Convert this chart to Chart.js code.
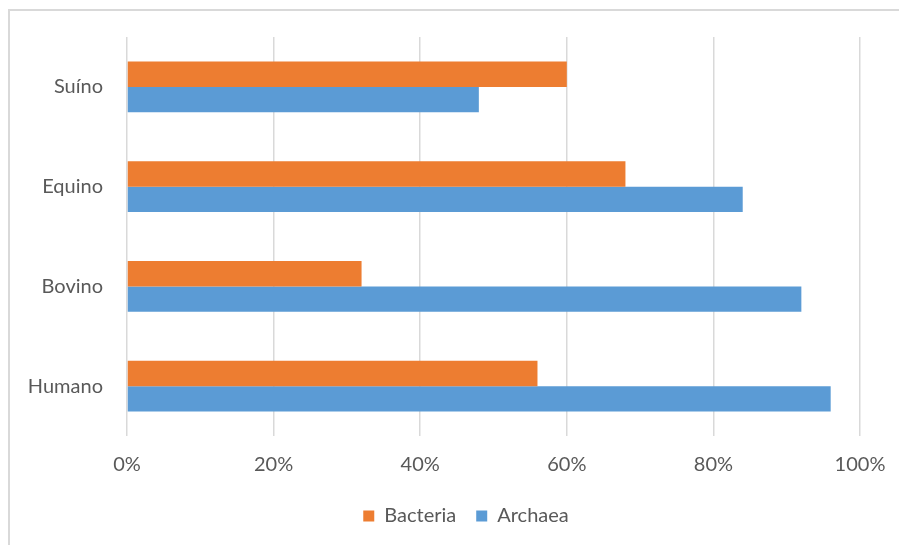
<!DOCTYPE html>
<html>
<head>
<meta charset="utf-8">
<script src="https://cdn.jsdelivr.net/npm/chart.js@4"></script>
<style>
  html, body { margin: 0; padding: 0; background: #fff; }
  #wrap { position: relative; width: 899px; height: 545px; }
  #frame { position: absolute; left: 8px; top: 9px; right: -2px; bottom: -2px;
           border-top: 2px solid #d9d9d9; border-left: 2px solid #d9d9d9; }
  #chart { position: absolute; left: 0; top: 0; }
</style>
</head>
<body>
<div id="wrap">
  <div id="frame"></div>
  <canvas id="chart" width="899" height="545"></canvas>
</div>
<script>
// data
const categories = ['Suíno', 'Equino', 'Bovino', 'Humano'];
const bacteria = [60, 68, 32, 56];
const archaea = [48, 84, 92, 96];
const xTicks = [0, 20, 40, 60, 80, 100];

const textColor = '#595959';
const fontFamily = "Lato, 'Open Sans', sans-serif";

// legend sits a bit right of the canvas centre in the original
const legendShift = {
    id: 'legendShift',
    afterLayout(chart) {
        chart.legend.left += 36;
        chart.legend.right += 36;
    }
};

new Chart(document.getElementById('chart'), {
    type: 'bar',
    data: {
        labels: categories,
        datasets: [
            { label: 'Bacteria', data: bacteria, backgroundColor: '#ED7D31' },
            { label: 'Archaea', data: archaea, backgroundColor: '#5B9BD5' }
        ]
    },
    options: {
        indexAxis: 'y',
        responsive: false,
        animation: false,
        devicePixelRatio: 1,
        layout: { padding: { top: 37, right: 39, left: 0, bottom: 9 } },
        datasets: { bar: { categoryPercentage: 0.51, barPercentage: 1.0 } },
        scales: {
            x: {
                min: 0,
                max: 100,
                afterBuildTicks: (scale) => { scale.ticks = xTicks.map(v => ({ value: v })); },
                afterFit: (scale) => {
                    scale.height = 50;
                    scale.paddingLeft = 0;
                    scale.paddingRight = 0;
                },
                grid: { color: '#d9d9d9', lineWidth: 1.5, drawTicks: false },
                border: { display: false },
                ticks: {
                    padding: 17,
                    color: textColor,
                    font: { family: fontFamily, size: 20 },
                    callback: (v) => v + '%'
                }
            },
            y: {
                afterFit: (scale) => { scale.width = 127; },
                grid: { display: false },
                border: { display: false },
                ticks: {
                    padding: 16,
                    color: textColor,
                    font: { family: fontFamily, size: 20 }
                }
            }
        },
        plugins: {
            legend: {
                position: 'bottom',
                labels: {
                    boxWidth: 11,
                    boxHeight: 11,
                    padding: 20,
                    color: textColor,
                    font: { family: fontFamily, size: 20 }
                }
            },
            tooltip: { enabled: false }
        }
    },
    plugins: [legendShift]
});
</script>
</body>
</html>
